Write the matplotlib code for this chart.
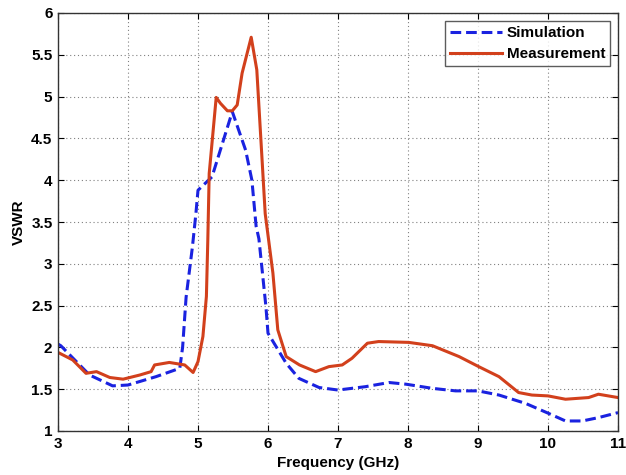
import matplotlib
matplotlib.use("Agg")
import matplotlib.pyplot as plt

sim_x = [3.0, 3.04, 3.45, 3.78, 4.0, 4.4, 4.74, 4.78, 4.83, 4.92, 4.97, 5.0, 5.2, 5.49,
         5.68, 5.77, 5.83, 5.87, 5.97, 6.0, 6.26, 6.44, 6.73, 7.0, 7.39, 7.73, 7.97, 8.35,
         8.68, 9.0, 9.3, 9.68, 10.01, 10.25, 10.49, 10.72, 11.0]
sim_y = [2.04, 2.02, 1.67, 1.54, 1.55, 1.65, 1.75, 2.0, 2.6, 3.2, 3.6, 3.88, 4.04, 4.82,
         4.36, 4.0, 3.45, 3.3, 2.49, 2.17, 1.81, 1.63, 1.52, 1.49, 1.53, 1.58, 1.56, 1.51,
         1.48, 1.48, 1.43, 1.33, 1.21, 1.12, 1.12, 1.16, 1.22]

meas_x = [3.0, 3.21, 3.40, 3.55, 3.74, 3.93, 4.17, 4.33, 4.38, 4.59, 4.81, 4.93, 5.0, 5.07,
          5.12, 5.14, 5.16, 5.26, 5.32, 5.42, 5.49, 5.56, 5.63, 5.76, 5.84, 5.91, 5.96,
          6.07, 6.14, 6.26, 6.45, 6.68, 6.87, 7.06, 7.2, 7.42, 7.58, 8.01, 8.35, 8.73,
          9.01, 9.3, 9.58, 9.77, 10.0, 10.25, 10.58, 10.72, 11.0]
meas_y = [1.94, 1.85, 1.69, 1.71, 1.64, 1.62, 1.67, 1.71, 1.79, 1.82, 1.79, 1.70, 1.83, 2.13,
          2.61, 3.28, 4.08, 4.99, 4.92, 4.83, 4.83, 4.90, 5.28, 5.71, 5.32, 4.32, 3.6,
          2.89, 2.21, 1.89, 1.79, 1.71, 1.77, 1.79, 1.87, 2.05, 2.07, 2.06, 2.02, 1.89,
          1.77, 1.65, 1.46, 1.43, 1.42, 1.38, 1.40, 1.44, 1.40]

x_ticks = [3, 4, 5, 6, 7, 8, 9, 10, 11]
y_ticks = [1, 1.5, 2, 2.5, 3, 3.5, 4, 4.5, 5, 5.5, 6]
y_labels = ['1', '1.5', '2', '2.5', '3', '3.5', '4', '4.5', '5', '5.5', '6']

plt.rcParams['font.family'] = ['Liberation Sans', 'DejaVu Sans']
plt.rcParams['font.weight'] = 'bold'

fig = plt.figure(figsize=(6.26, 4.75), dpi=100)
ax = fig.add_axes([58/626, 1 - 431/475, (618-58)/626, (431-13)/475])

ax.plot(sim_x, sim_y, color='#1a22e0', linestyle=(0, (3.5, 1.6)), linewidth=2.2, label='Simulation')
ax.plot(meas_x, meas_y, color='#d2401c', linestyle='-', linewidth=2.2, label='Measurement')

ax.set_xlim(3, 11)
ax.set_ylim(1, 6)
ax.set_xticks(x_ticks)
ax.set_yticks(y_ticks)
ax.set_yticklabels(y_labels)
ax.tick_params(labelsize=11, direction='in', length=4, width=0.8, pad=4)
ax.tick_params(top=True, right=True)
for lab in ax.get_xticklabels() + ax.get_yticklabels():
    lab.set_fontweight('bold')
ax.grid(True, linestyle=(0, (1, 2.5)), color='#808080', linewidth=0.8)
for s in ax.spines.values():
    s.set_color('#333333')
    s.set_linewidth(1.0)

ax.set_xlabel('Frequency (GHz)', fontsize=11, fontweight='bold', labelpad=4)
ax.set_ylabel('VSWR', fontsize=11, fontweight='bold', labelpad=4)

leg = ax.legend(loc='upper right', fontsize=11, frameon=True, fancybox=False,
                borderaxespad=0.5, handlelength=3.4, handletextpad=0.3,
                borderpad=0.35, labelspacing=0.45)
leg.get_frame().set_edgecolor('#333333')
leg.get_frame().set_linewidth(1.0)
for t in leg.get_texts():
    t.set_fontweight('bold')

fig.savefig('out.png', dpi=100)
